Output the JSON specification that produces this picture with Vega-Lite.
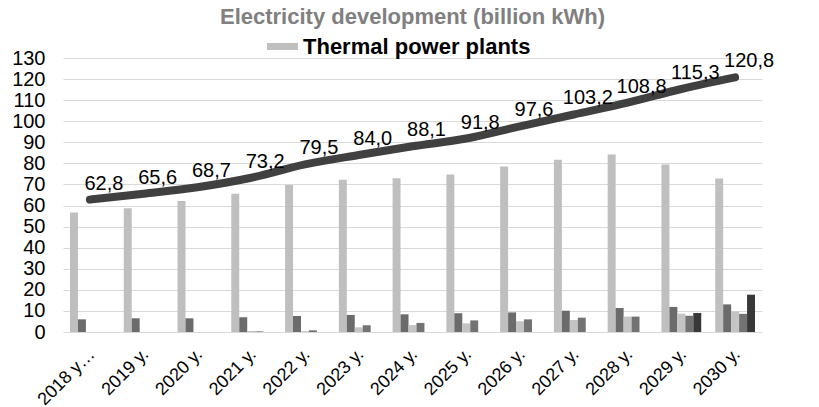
{
  "$schema": "https://vega.github.io/schema/vega-lite/v6.json",
  "width": 699,
  "height": 274,
  "autosize": {"type": "none"},
  "padding": {"left": 63, "top": 58, "right": 57, "bottom": 75},
  "background": "white",
  "title": {
    "text": "Electricity development (billion kWh)",
    "fontSize": 22,
    "fontWeight": "bold",
    "color": "#808080",
    "font": "Liberation Sans",
    "anchor": "middle",
    "offset": 2
  },
  "config": {
    "font": "Liberation Sans",
    "view": {"stroke": null},
    "locale": {"number": {"decimal": ",", "thousands": " ", "grouping": [3], "currency": ["", ""]}}
  },
  "datasets": {
    "bars": [
      {"year": "2018 y…", "series": "Thermal power plants", "value": 56.7},
      {"year": "2019 y.", "series": "Thermal power plants", "value": 58.7},
      {"year": "2020 y.", "series": "Thermal power plants", "value": 62.1},
      {"year": "2021 y.", "series": "Thermal power plants", "value": 65.6},
      {"year": "2022 y.", "series": "Thermal power plants", "value": 69.7},
      {"year": "2023 y.", "series": "Thermal power plants", "value": 72.2},
      {"year": "2024 y.", "series": "Thermal power plants", "value": 73.0},
      {"year": "2025 y.", "series": "Thermal power plants", "value": 74.7},
      {"year": "2026 y.", "series": "Thermal power plants", "value": 78.5},
      {"year": "2027 y.", "series": "Thermal power plants", "value": 81.7},
      {"year": "2028 y.", "series": "Thermal power plants", "value": 84.2},
      {"year": "2029 y.", "series": "Thermal power plants", "value": 79.5},
      {"year": "2030 y.", "series": "Thermal power plants", "value": 72.8},
      {"year": "2018 y…", "series": "Hydro power plants", "value": 6.0},
      {"year": "2019 y.", "series": "Hydro power plants", "value": 6.5},
      {"year": "2020 y.", "series": "Hydro power plants", "value": 6.5},
      {"year": "2021 y.", "series": "Hydro power plants", "value": 7.0},
      {"year": "2022 y.", "series": "Hydro power plants", "value": 7.6},
      {"year": "2023 y.", "series": "Hydro power plants", "value": 8.1},
      {"year": "2024 y.", "series": "Hydro power plants", "value": 8.4},
      {"year": "2025 y.", "series": "Hydro power plants", "value": 8.9},
      {"year": "2026 y.", "series": "Hydro power plants", "value": 9.3},
      {"year": "2027 y.", "series": "Hydro power plants", "value": 10.1},
      {"year": "2028 y.", "series": "Hydro power plants", "value": 11.4},
      {"year": "2029 y.", "series": "Hydro power plants", "value": 11.9},
      {"year": "2030 y.", "series": "Hydro power plants", "value": 13.1},
      {"year": "2021 y.", "series": "Solar power plants", "value": 0.5},
      {"year": "2022 y.", "series": "Solar power plants", "value": 0.4},
      {"year": "2023 y.", "series": "Solar power plants", "value": 2.2},
      {"year": "2024 y.", "series": "Solar power plants", "value": 3.3},
      {"year": "2025 y.", "series": "Solar power plants", "value": 4.1},
      {"year": "2026 y.", "series": "Solar power plants", "value": 5.1},
      {"year": "2027 y.", "series": "Solar power plants", "value": 5.7},
      {"year": "2028 y.", "series": "Solar power plants", "value": 7.3},
      {"year": "2029 y.", "series": "Solar power plants", "value": 8.7},
      {"year": "2030 y.", "series": "Solar power plants", "value": 9.8},
      {"year": "2021 y.", "series": "Wind power plants", "value": 0.3},
      {"year": "2022 y.", "series": "Wind power plants", "value": 0.8},
      {"year": "2023 y.", "series": "Wind power plants", "value": 3.2},
      {"year": "2024 y.", "series": "Wind power plants", "value": 4.3},
      {"year": "2025 y.", "series": "Wind power plants", "value": 5.5},
      {"year": "2026 y.", "series": "Wind power plants", "value": 6.0},
      {"year": "2027 y.", "series": "Wind power plants", "value": 6.8},
      {"year": "2028 y.", "series": "Wind power plants", "value": 7.3},
      {"year": "2029 y.", "series": "Wind power plants", "value": 7.7},
      {"year": "2030 y.", "series": "Wind power plants", "value": 8.6},
      {"year": "2029 y.", "series": "Nuclear power plant", "value": 9.0},
      {"year": "2030 y.", "series": "Nuclear power plant", "value": 17.7}
    ],
    "total": [
      {"year": "2018 y…", "total": 62.8},
      {"year": "2019 y.", "total": 65.6},
      {"year": "2020 y.", "total": 68.7},
      {"year": "2021 y.", "total": 73.2},
      {"year": "2022 y.", "total": 79.5},
      {"year": "2023 y.", "total": 84.0},
      {"year": "2024 y.", "total": 88.1},
      {"year": "2025 y.", "total": 91.8},
      {"year": "2026 y.", "total": 97.6},
      {"year": "2027 y.", "total": 103.2},
      {"year": "2028 y.", "total": 108.8},
      {"year": "2029 y.", "total": 115.3},
      {"year": "2030 y.", "total": 120.8}
    ]
  },
  "encoding": {
    "x": {
      "field": "year",
      "type": "nominal",
      "sort": null,
      "title": null,
      "scale": {"paddingInner": 0.26, "paddingOuter": 0.13},
      "axis": {
        "labelAngle": -45,
        "labelFontSize": 18,
        "labelColor": "#000000",
        "labelPadding": 13,
        "labelOffset": -4,
        "labelLimit": 200,
        "ticks": false,
        "domain": false,
        "grid": false
      }
    }
  },
  "layer": [
    {
      "data": {"name": "bars"},
      "mark": {"type": "bar"},
      "encoding": {
        "xOffset": {
          "field": "series",
          "type": "nominal",
          "scale": {"domain": ["Thermal power plants", "Hydro power plants", "Solar power plants", "Wind power plants", "Nuclear power plant"], "paddingInner": 0, "paddingOuter": 0}
        },
        "y": {
          "field": "value",
          "type": "quantitative",
          "title": null,
          "scale": {"domain": [0, 130], "nice": false},
          "axis": {
            "orient": "left",
            "values": [0, 10, 20, 30, 40, 50, 60, 70, 80, 90, 100, 110, 120, 130],
            "labelFontSize": 20,
            "labelColor": "#000000",
            "labelPadding": 18,
            "ticks": false,
            "domain": false,
            "grid": true,
            "gridColor": "#d9d9d9",
            "gridWidth": 1
          }
        },
        "color": {
          "field": "series",
          "type": "nominal",
          "scale": {
            "domain": ["Thermal power plants", "Hydro power plants", "Solar power plants", "Wind power plants", "Nuclear power plant"],
            "range": ["#bfbfbf", "#6b6b6b", "#c4c4c4", "#737373", "#383838"]
          },
          "legend": {
            "values": ["Thermal power plants"],
            "title": null,
            "orient": "none",
            "legendX": 204,
            "legendY": -27,
            "symbolType": "M-1,-0.226H1V0.226H-1Z",
            "symbolSize": 961,
            "symbolStrokeWidth": 0,
            "labelFontSize": 22,
            "labelFontWeight": "bold",
            "labelColor": "#000000",
            "labelOffset": 5,
            "labelLimit": 400
          }
        }
      }
    },
    {
      "data": {"name": "total"},
      "layer": [
        {
          "mark": {"type": "line", "color": "#404040", "strokeWidth": 8, "strokeCap": "round", "interpolate": "monotone"},
          "encoding": {
            "y": {
              "field": "total",
              "type": "quantitative",
              "title": null,
              "scale": {"domain": [0, 130], "nice": false},
              "axis": {
                "orient": "right",
                "values": [0, 10, 20, 30, 40, 50, 60, 70, 80, 90, 100, 110, 120, 130],
                "labelFontSize": 20,
                "labelColor": "#000000",
                "labelPadding": 20,
                "ticks": false,
                "domain": false,
                "grid": false
              }
            }
          }
        },
        {
          "mark": {"type": "text", "fontSize": 20, "color": "#000000", "dx": 14, "dy": -16, "baseline": "middle", "align": "center"},
          "encoding": {
            "y": {"field": "total", "type": "quantitative", "axis": null},
            "text": {"field": "total", "type": "quantitative", "format": ".1f"}
          }
        }
      ]
    }
  ],
  "resolve": {"scale": {"y": "independent"}}
}
